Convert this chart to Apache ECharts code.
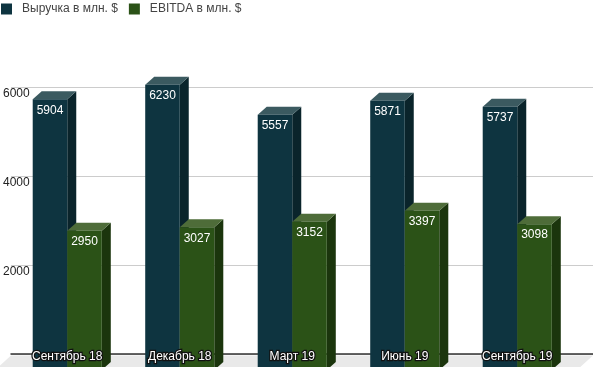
<!DOCTYPE html>
<html>
<head>
<meta charset="utf-8">
<script src="https://cdn.jsdelivr.net/npm/echarts@6/dist/echarts.min.js"></script>
<style>
html,body{margin:0;padding:0;background:#fff;}
#chart{width:593px;height:367px;}
</style>
</head>
<body>
<div id="chart"></div>
<script>
const categories = ['Сентябрь 18', 'Декабрь 18', 'Март 19', 'Июнь 19', 'Сентябрь 19'];
const revenue = [5904, 6230, 5557, 5871, 5737];
const ebitda = [2950, 3027, 3152, 3397, 3098];
const seriesNames = ['Выручка в млн. $', 'EBITDA в млн. $'];
const yMin = 0, yMax = 6000, yInterval = 2000;

const FONT = 'Arial, "Liberation Sans", sans-serif';
const DX = 9, DY = 8;
const palettes = [
  { front: '#0e3440', top: '#3b5a60', side: '#0a242b' },
  { front: '#2b5217', top: '#4e6c39', side: '#1b350d' }
];

function barRenderer(seriesIdx) {
  return function (params, api) {
    const cat = api.value(0), val = api.value(1);
    const p = api.coord([cat, val]);
    const z0 = api.coord([cat, 0]);
    const bw = api.size([1, 0])[0];
    const w = bw * 0.307;
    const x0 = seriesIdx === 0 ? p[0] - w : p[0];
    const ft = p[1] + DY;
    const bottom = z0[1] + DY + 8;
    const c = palettes[seriesIdx];
    return {
      type: 'group',
      children: [
        { type: 'polygon', shape: { points: [[x0 + w, ft], [x0 + w + DX, ft - DY], [x0 + w + DX, bottom - DY], [x0 + w, bottom]] }, style: { fill: c.side } },
        { type: 'polygon', shape: { points: [[x0, ft], [x0 + w, ft], [x0 + w + DX, ft - DY], [x0 + DX, ft - DY]] }, style: { fill: c.top } },
        { type: 'rect', shape: { x: x0, y: ft, width: w, height: bottom - ft }, style: { fill: c.front } },
        { type: 'text', style: { text: String(val), x: x0 + w / 2, y: ft + 5, align: 'center', verticalAlign: 'top', fill: '#ffffff', font: '12px ' + FONT } }
      ]
    };
  };
}

const chart = echarts.init(document.getElementById('chart'), null, { renderer: 'canvas' });
chart.setOption({
  animation: false,
  legend: {
    left: 1, top: 3, padding: 0, itemWidth: 11, itemHeight: 11, itemGap: 11,
    icon: 'rect',
    textStyle: { fontFamily: FONT, fontSize: 12, color: '#444', padding: [0, 0, 0, 5] },
    data: seriesNames
  },
  grid: [
    { left: 11, right: 0, top: 87, bottom: 13 },
    { left: 11, right: 19.5, top: 87, bottom: 13 }
  ],
  xAxis: [
    { type: 'value', gridIndex: 0, min: 0, max: 1, axisLine: { show: true, lineStyle: { color: '#333', width: 1.5 } }, axisTick: { show: false }, axisLabel: { show: false }, splitLine: { show: false } },
    { type: 'category', gridIndex: 1, data: categories, show: false }
  ],
  yAxis: [
    { type: 'value', gridIndex: 0, min: yMin, max: yMax, interval: yInterval,
      axisLine: { show: false }, axisTick: { show: false },
      splitLine: { lineStyle: { color: '#cccccc', width: 1 } },
      axisLabel: { showMinLabel: false, showMaxLabel: true, align: 'left', margin: 8, verticalAlign: 'top', padding: [1, 0, 0, 0], color: '#222', fontFamily: FONT, fontSize: 12, formatter: function (v) { return String(v); } } },
    { type: 'value', gridIndex: 1, min: yMin, max: yMax, interval: yInterval, show: false }
  ],
  series: [
    {
      type: 'custom', name: 'floor', xAxisIndex: 0, yAxisIndex: 0, silent: true, clip: false,
      data: [[0, 0]],
      renderItem: function (params, api) {
        const a = api.coord([0, 0]), b = api.coord([1, 0]);
        return { type: 'polygon', shape: { points: [[a[0], a[1] + 1.5], [b[0], b[1] + 1.5], [b[0] - 16, b[1] + 16], [a[0] - 16, a[1] + 16]] }, style: { fill: '#e9e9e9' } };
      }
    },
    { type: 'custom', name: seriesNames[0], xAxisIndex: 1, yAxisIndex: 1, clip: false, itemStyle: { color: palettes[0].front }, data: revenue.map((v, i) => [i, v]), renderItem: barRenderer(0) },
    { type: 'custom', name: seriesNames[1], xAxisIndex: 1, yAxisIndex: 1, clip: false, itemStyle: { color: palettes[1].front }, data: ebitda.map((v, i) => [i, v]), renderItem: barRenderer(1) },
    {
      type: 'custom', name: 'labels', xAxisIndex: 1, yAxisIndex: 1, clip: false, z: 10, silent: true,
      data: categories.map((c, i) => [i, 0]),
      renderItem: function (params, api) {
        const i = api.value(0);
        const p = api.coord([i, 0]);
        return { type: 'text', style: { text: categories[i], x: p[0], y: p[1] + 3, align: 'center', verticalAlign: 'middle', fill: '#ffffff', stroke: '#111111', lineWidth: 2.5, font: '12px ' + FONT } };
      }
    }
  ]
});
</script>
</body>
</html>
